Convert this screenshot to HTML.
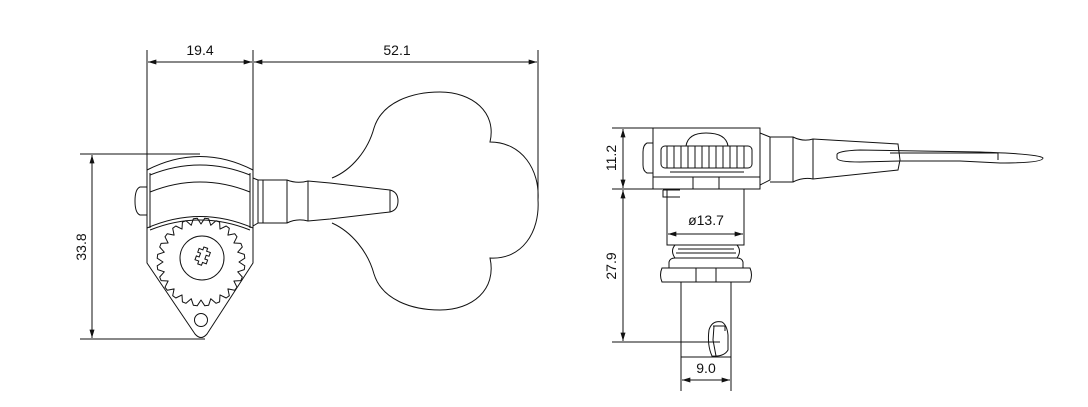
<!DOCTYPE html>
<html><head><meta charset="utf-8"><style>
html,body{margin:0;padding:0;background:#fff;width:1088px;height:407px;overflow:hidden}
svg{display:block}
text{font-family:"Liberation Sans",sans-serif;font-size:14px;fill:#111}
</style></head><body>
<svg width="1088" height="407" viewBox="0 0 1088 407" xmlns="http://www.w3.org/2000/svg">
<defs>
<marker id="a" viewBox="0 0 10 6" refX="10" refY="3" markerWidth="14" markerHeight="5" orient="auto-start-reverse" markerUnits="userSpaceOnUse"><path d="M0,0 L10,3 L0,6z" fill="#111"/></marker>
</defs>
<g stroke="#111" stroke-width="1" fill="none">
<!-- LEFT VIEW dimensions -->
<line x1="147" y1="50" x2="147" y2="175"/>
<line x1="253" y1="50" x2="253" y2="178"/>
<line x1="538" y1="50" x2="538" y2="200"/>
<line x1="148" y1="62" x2="252" y2="62" marker-start="url(#a)" marker-end="url(#a)"/>
<line x1="254" y1="62" x2="537" y2="62" marker-start="url(#a)" marker-end="url(#a)"/>
<line x1="80" y1="154" x2="200" y2="154"/>
<line x1="80" y1="339" x2="205" y2="339"/>
<line x1="92" y1="155" x2="92" y2="338" marker-start="url(#a)" marker-end="url(#a)"/>
<!-- gear -->
<path transform="translate(201,262)" d="M38,0 L43.8,3.8 L43.3,7.6 L36.7,9.8 L41.3,15 L39.9,18.6 L32.9,19 L36,25.2 L33.7,28.3 L26.9,26.9 L28.3,33.7 L25.2,36 L19,32.9 L18.6,39.9 L15,41.3 L9.8,36.7 L7.6,43.3 L3.8,43.8
L0,38 L-3.8,43.8 L-7.6,43.3 L-9.8,36.7 L-15,41.3 L-18.6,39.9 L-19,32.9 L-25.2,36 L-28.3,33.7 L-26.9,26.9 L-33.7,28.3 L-36,25.2 L-32.9,19 L-39.9,18.6 L-41.3,15 L-36.7,9.8 L-43.3,7.6 L-43.8,3.8
L-38,0 L-43.8,-3.8 L-43.3,-7.6 L-36.7,-9.8 L-41.3,-15 L-39.9,-18.6 L-32.9,-19 L-36,-25.2 L-33.7,-28.3 L-26.9,-26.9 L-28.3,-33.7 L-25.2,-36 L-19,-32.9 L-18.6,-39.9 L-15,-41.3 L-9.8,-36.7 L-7.6,-43.3 L-3.8,-43.8
L0,-38 L3.8,-43.8 L7.6,-43.3 L9.8,-36.7 L15,-41.3 L18.6,-39.9 L19,-32.9 L25.2,-36 L28.3,-33.7 L26.9,-26.9 L33.7,-28.3 L36,-25.2 L32.9,-19 L39.9,-18.6 L41.3,-15 L36.7,-9.8 L43.3,-7.6 L43.8,-3.8 Z" stroke-linejoin="round"/>
<circle cx="202" cy="258" r="22" fill="#fff"/>
<path d="M196,250 h4 v-3 h4 v3 h4 v4 h-3 v4 h3 v4 h-4 v3 h-4 v-3 h-4 v-4 h3 v-4 h-3z" transform="rotate(20 202 258)"/>
<circle cx="201" cy="320" r="6.5"/>
<!-- plate -->
<path d="M147,228 L147,263 L195,334 Q201,341 207,334 L253,263 L253,228"/>
<!-- body -->
<path d="M147,228 L147,170 Q200,143 253,170 L253,228 Q200,205 147,228z" fill="#fff"/>
<path d="M150,175 Q200,155 250,175"/>
<path d="M150,192 Q200,172 250,192"/>
<path d="M150,230 Q200,210 250,230"/>
<line x1="150" y1="173" x2="150" y2="228"/>
<line x1="250" y1="173" x2="250" y2="228"/>
<path d="M147,187 L140,187 Q135,189 135,201 Q135,213 140,215 L147,215"/>
<!-- shaft -->
<path d="M253,178 L258,180 L258,223 L253,226"/>
<path d="M258,180 L287,180 Q297,184 308,181 L330,183 L390,190 Q398,192 398,201 Q398,210 390,212 L330,219 L308,221 Q297,218 287,223 L258,223"/>
<line x1="263" y1="180" x2="263" y2="223"/>
<line x1="287" y1="180" x2="287" y2="223"/>
<line x1="308" y1="181" x2="308" y2="221"/>
<line x1="390" y1="190" x2="390" y2="212"/>
<!-- key -->
<path d="M332,178 C352,170 368,150 374,128 C382,102 412,92 440,92 C472,92 497,112 490,142 C522,142 540,170 538,200 C540,232 522,260 490,258 C497,290 472,310 440,310 C412,310 382,300 374,274 C368,252 352,232 332,223"/>

<!-- RIGHT VIEW dimensions -->
<line x1="612" y1="128" x2="653" y2="128"/>
<line x1="612" y1="189" x2="760" y2="189"/>
<line x1="612" y1="342" x2="720" y2="342"/>
<line x1="623" y1="129" x2="623" y2="188" marker-start="url(#a)" marker-end="url(#a)"/>
<line x1="623" y1="190" x2="623" y2="341" marker-start="url(#a)" marker-end="url(#a)"/>
<line x1="668" y1="234" x2="743" y2="234" marker-start="url(#a)" marker-end="url(#a)"/>
<line x1="681" y1="357" x2="681" y2="391"/>
<line x1="731" y1="357" x2="731" y2="391"/>
<line x1="682" y1="380" x2="730" y2="380" marker-start="url(#a)" marker-end="url(#a)"/>
<!-- body -->
<rect x="653" y="128" width="107" height="61"/>
<line x1="653" y1="177" x2="760" y2="177"/>
<line x1="693" y1="177" x2="693" y2="189"/>
<line x1="719" y1="177" x2="719" y2="189"/>
<path d="M653,143 L647,143 Q643,145 643,152 L643,165 Q643,171 647,173 L653,173"/>
<path d="M686,146 Q688,133 706,133 Q726,133 728,146"/>
<rect x="661" y="146" width="91" height="22" rx="4"/>
<path d="M667,146v22 M674,146v22 M681,146v22 M688,146v22 M695,146v22 M702,146v22 M709,146v22 M716,146v22 M723,146v22 M730,146v22 M737,146v22 M744,146v22"/>
<line x1="670" y1="172" x2="744" y2="172"/>
<!-- shaft right -->
<path d="M760,133 L770,137 L770,180 L760,185"/>
<path d="M770,137 L793,137 Q803,142 813,139 L898,144 L900,160 L898,170 L813,179 Q803,177 793,182 L770,182"/>
<line x1="793" y1="137" x2="793" y2="182"/>
<line x1="813" y1="139" x2="813" y2="179"/>
<path d="M837,155 Q836,151 860,150 L980,152 Q1040,154 1043,158 Q1043,163 1000,163 L960,161 L900,161 L860,162 Q837,162 837,158z"/>
<path d="M890,153 L998,153 L998,160"/>
<!-- post -->
<path d="M667,189 L667,245 L744,245 L744,189"/>
<path d="M663,190 L680,190 M663,190 L663,197 L680,197"/>
<path d="M675,245 Q670,251 675,258 L737,258 Q742,251 737,245"/>
<path d="M678,249 L734,249 M676,253 L736,253"/>
<path d="M669,268 L669,262 Q670,258 675,258 L737,258 Q742,258 743,262 L743,268"/>
<path d="M662,268 L750,268 Q753,275 750,282 L662,282 Q659,275 662,268z"/>
<line x1="696" y1="268" x2="696" y2="282"/>
<line x1="716" y1="268" x2="716" y2="282"/>
<path d="M681,282 L681,357 L731,357 L731,282"/>
<path d="M709,330 Q712,320 722,322 Q727,325 728,335 L728,350 Q724,357 712,356 Q707,345 709,330z"/>
<path d="M713,326 L725,326 L725,331 M714,326 L713,340 L716,356"/>
</g>
<text x="200" y="55" text-anchor="middle">19.4</text>
<text x="397" y="55" text-anchor="middle">52.1</text>
<text transform="translate(86,247) rotate(-90)" text-anchor="middle">33.8</text>
<text transform="translate(616,158) rotate(-90)" text-anchor="middle">11.2</text>
<text transform="translate(616,266) rotate(-90)" text-anchor="middle">27.9</text>
<text x="706" y="225" text-anchor="middle">ø13.7</text>
<text x="706" y="373" text-anchor="middle">9.0</text>
</svg>
</body></html>
